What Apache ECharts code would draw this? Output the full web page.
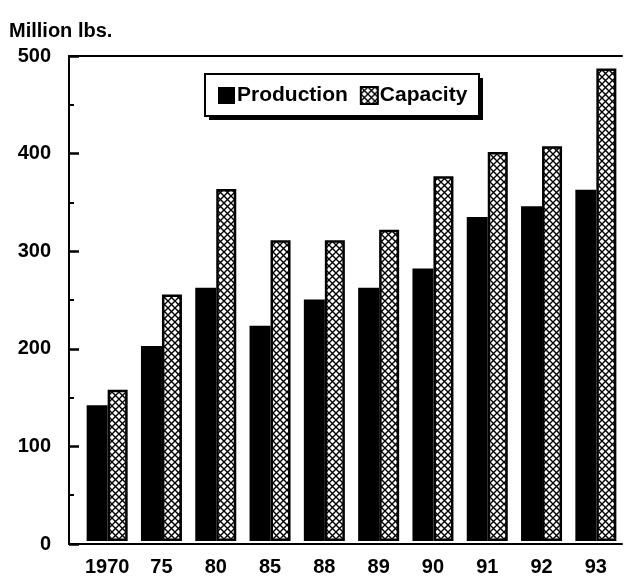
<!DOCTYPE html>
<html>
<head>
<meta charset="utf-8">
<script src="https://cdn.jsdelivr.net/npm/echarts@6/dist/echarts.min.js"></script>
<style>
html,body{margin:0;padding:0;background:#fff;}
#c{width:626px;height:577px;}
</style>
</head>
<body>
<div id="c"></div>
<script>
const categories = ['1970', '75', '80', '85', '88', '89', '90', '91', '92', '93'];
const production = [140, 201, 261, 222, 249, 261, 281, 334, 345, 362];
const capacity = [156, 254, 363, 310, 310, 321, 376, 401, 407, 487];
const yMin = 0, yMax = 500, yStep = 100;
const seriesNames = ['Production', 'Capacity'];
const unitLabel = 'Million lbs.';

const FONT = "'Liberation Sans', Arial, Helvetica, sans-serif";

function makeHatch() {
  const s = 7;
  const cv = document.createElement('canvas');
  cv.width = s; cv.height = s;
  const ctx = cv.getContext('2d');
  ctx.fillStyle = '#fff';
  ctx.fillRect(0, 0, s, s);
  ctx.strokeStyle = '#000';
  ctx.lineWidth = 1.4;
  ctx.beginPath();
  ctx.moveTo(-1, -1); ctx.lineTo(s + 1, s + 1);
  ctx.moveTo(s + 1, -1); ctx.lineTo(-1, s + 1);
  ctx.stroke();
  return cv;
}
const hatch = { image: makeHatch(), repeat: 'repeat' };

const TOP = 56, BOTTOM = 33;
const chart = echarts.init(document.getElementById('c'), null, { renderer: 'canvas' });
const option = {
  animation: false,
  backgroundColor: '#fff',
  textStyle: { fontFamily: FONT, color: '#000' },
  grid: [
    { left: 69, right: 4, top: TOP, bottom: BOTTOM },   // frame + y axis
    { left: 80, right: 3, top: TOP, bottom: BOTTOM }    // bars
  ],
  title: {
    text: unitLabel, left: 4, top: 16,
    textStyle: { fontFamily: FONT, fontSize: 20, fontWeight: 'bold', color: '#000' }
  },
  legend: {
    data: seriesNames,
    left: 205, top: 74,
    padding: [11, 12, 10, 13],
    itemGap: 12,
    itemWidth: 17, itemHeight: 17,
    icon: 'rect',
    z: 20,
    textStyle: { fontFamily: FONT, fontSize: 21, fontWeight: 'bold', color: '#000', padding: [0, 0, 0, -3] }
  },
  xAxis: [
    {
      gridIndex: 0, type: 'value', min: 0, max: 1, position: 'bottom',
      axisLine: { show: true, onZero: false, lineStyle: { color: '#000', width: 2 } },
      axisTick: { show: false }, axisLabel: { show: false }, splitLine: { show: false }
    },
    {
      gridIndex: 0, type: 'value', min: 0, max: 1, position: 'top',
      axisLine: { show: true, onZero: false, lineStyle: { color: '#000', width: 2 } },
      axisTick: { show: false }, axisLabel: { show: false }, splitLine: { show: false }
    },
    {
      gridIndex: 1, type: 'category', data: categories, boundaryGap: true,
      axisLine: { show: false }, axisTick: { show: false },
      axisLabel: { color: '#000', fontFamily: FONT, fontSize: 20, fontWeight: 'bold', margin: 16, interval: 0 },
      splitLine: { show: false }
    }
  ],
  yAxis: [
    {
      gridIndex: 0, type: 'value', min: yMin, max: yMax, interval: yStep,
      axisLine: { show: true, lineStyle: { color: '#000', width: 2 } },
      axisTick: { show: true, inside: true, length: 10, lineStyle: { color: '#000', width: 2.5 } },
      minorTick: { show: true, splitNumber: 2, length: 5, lineStyle: { color: '#000', width: 2 } },
      axisLabel: { color: '#000', fontFamily: FONT, fontSize: 20, fontWeight: 'bold', margin: 18 },
      splitLine: { show: false }
    },
    {
      gridIndex: 1, type: 'value', min: yMin, max: yMax, interval: yStep, show: false
    }
  ],
  series: [
    {
      name: seriesNames[0], type: 'bar', data: production,
      xAxisIndex: 2, yAxisIndex: 1,
      barWidth: 21, barGap: '0%',
      itemStyle: { color: '#000' }
    },
    {
      name: seriesNames[1], type: 'bar', data: capacity,
      xAxisIndex: 2, yAxisIndex: 1,
      barWidth: 20, barGap: '0%',
      itemStyle: { color: hatch, borderColor: '#000', borderWidth: 2.5 }
    }
  ],
  graphic: [
    { type: 'rect', shape: { x: 209, y: 78, width: 274, height: 42 }, style: { fill: '#000' }, z: 15 },
    { type: 'rect', shape: { x: 205, y: 74, width: 274, height: 42 }, style: { fill: '#fff', stroke: '#000', lineWidth: 2 }, z: 16 }
  ]
};
chart.setOption(option);
</script>
</body>
</html>
